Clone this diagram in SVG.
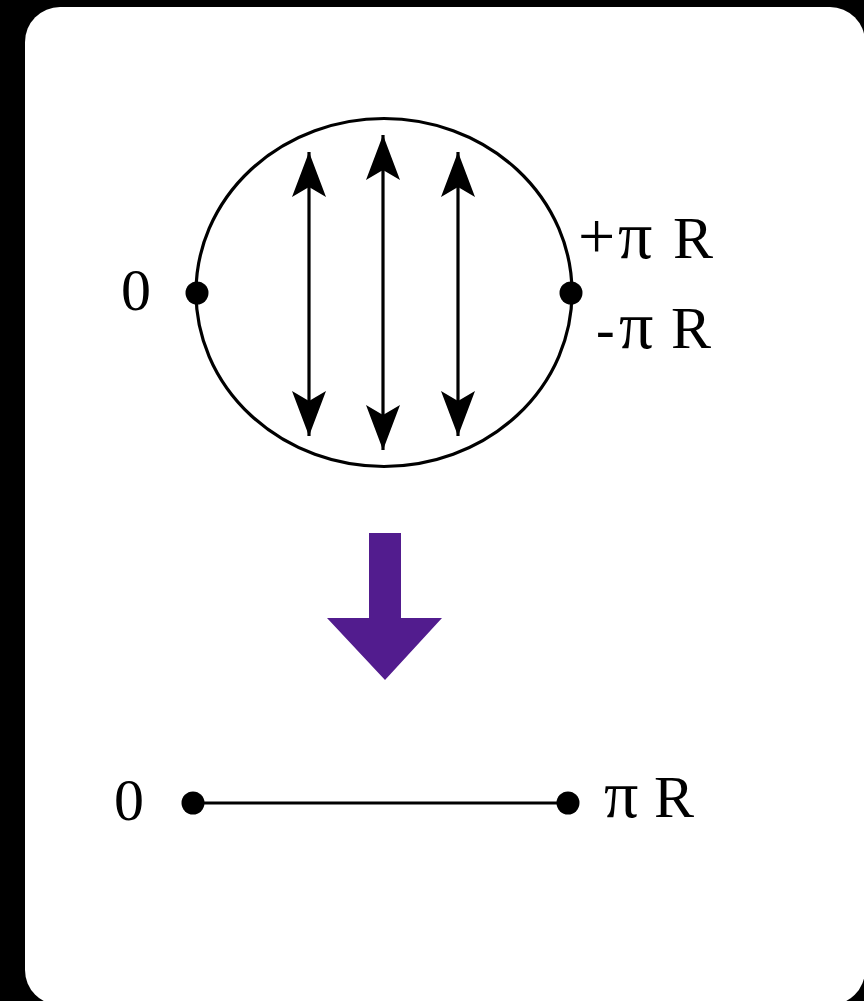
<svg xmlns="http://www.w3.org/2000/svg" width="864" height="1001" viewBox="0 0 864 1001">
<style>
.ln{stroke:#000;stroke-width:3.2;fill:none}
.dot{fill:#000}
.lbl{font-family:"Liberation Serif","Times New Roman",serif;font-size:60px;fill:#000}
.pi{font-size:68px}
.pl{font-size:66px}
.mn{font-size:56px}
</style>
<defs>
<marker id="ah" viewBox="-46 -18 47 36" markerWidth="47" markerHeight="36" refX="0" refY="0" markerUnits="userSpaceOnUse" orient="auto-start-reverse">
<path d="M0,0 L-45,-17 L-35,0 L-45,17 Z" fill="#000"/>
</marker>
</defs>
<rect x="0" y="0" width="864" height="1001" fill="#000"/>
<rect x="25" y="7" width="840" height="998" rx="35" ry="35" fill="#fff"/>
<g id="circle">
<ellipse class="ln" cx="384" cy="292.5" rx="188" ry="174"/>
<circle class="dot" cx="197" cy="293" r="11.5"/>
<circle class="dot" cx="571" cy="293" r="11.5"/>
</g>
<g id="label-0-top"><text class="lbl" x="121" y="310">0</text></g>
<g id="label-plus"><text class="lbl" y="258"><tspan class="pl" x="578">+</tspan><tspan class="pi" x="618">π</tspan><tspan x="652"> </tspan><tspan x="673">R</tspan></text></g>
<g id="label-minus"><text class="lbl" y="348"><tspan class="mn" x="596">-</tspan><tspan class="pi" x="619">π</tspan><tspan x="652"> </tspan><tspan x="671">R</tspan></text></g>
<g id="connectors">
<line class="ln" x1="309" y1="152" x2="309" y2="436" marker-start="url(#ah)" marker-end="url(#ah)"/>
<line class="ln" x1="383" y1="135" x2="383" y2="450" marker-start="url(#ah)" marker-end="url(#ah)"/>
<line class="ln" x1="458" y1="152" x2="458" y2="436" marker-start="url(#ah)" marker-end="url(#ah)"/>
<polygon points="369,533 401,533 401,618 442,618 385,680 327,618 369,618" fill="#521C8E"/>
<line class="ln" x1="193" y1="803" x2="568" y2="803" stroke-width="3.6"/>
</g>
<g id="segment">
<circle class="dot" cx="193" cy="803" r="11.5"/>
<circle class="dot" cx="568" cy="803" r="11.5"/>
</g>
<g id="label-0-bottom"><text class="lbl" x="114" y="820">0</text></g>
<g id="label-piR"><text class="lbl" y="817"><tspan class="pi" x="604">π</tspan><tspan x="638"> </tspan><tspan x="654">R</tspan></text></g>
</svg>
